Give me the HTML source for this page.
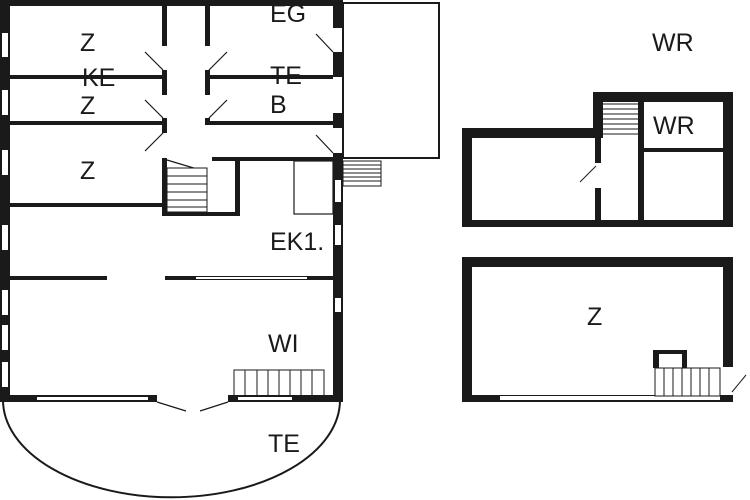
<!DOCTYPE html>
<html><head><meta charset="utf-8"><style>body{margin:0;background:#fff}svg{display:block}text{font-family:"Liberation Sans",sans-serif;font-size:25px;fill:#1a1a1a}</style></head><body>
<svg width="750" height="500" viewBox="0 0 750 500" xmlns="http://www.w3.org/2000/svg">
<rect width="750" height="500" fill="#fff"/>
<g fill="#1a1a1a">
<!-- main outer walls -->
<rect x="0" y="0" width="343" height="6"/>
<rect x="0" y="0" width="10" height="402"/>
<rect x="333" y="0" width="10" height="28"/>
<rect x="333" y="52" width="10" height="25"/>
<rect x="333" y="113" width="10" height="15"/>
<rect x="333" y="153" width="10" height="249"/>
<rect x="0" y="395" width="343" height="7"/>
<!-- interior horizontal -->
<rect x="10" y="75" width="157" height="4"/>
<rect x="10" y="121" width="157" height="4"/>
<rect x="10" y="203" width="157" height="4"/>
<rect x="210" y="75" width="123" height="4"/>
<rect x="207" y="121" width="126" height="4"/>
<rect x="212" y="157" width="121" height="4"/>
<rect x="10" y="276" width="97" height="4"/>
<rect x="165" y="276" width="168" height="4"/>
<!-- corridor walls -->
<rect x="162" y="6" width="5" height="40"/>
<rect x="162" y="70" width="5" height="25"/>
<rect x="162" y="118" width="5" height="15"/>
<rect x="205" y="6" width="5" height="40"/>
<rect x="205" y="70" width="5" height="25"/>
<rect x="205" y="118" width="5" height="7"/>
<!-- stair box -->
<rect x="162" y="158" width="5" height="58"/>
<rect x="162" y="212" width="78" height="4"/>
<rect x="235" y="160" width="5" height="56"/>
</g>
<g fill="#fff">
<rect x="2" y="33" width="6" height="24"/><rect x="2" y="90" width="6" height="25"/><rect x="2" y="150" width="6" height="25"/><rect x="2" y="225" width="6" height="25"/><rect x="2" y="290" width="6" height="25"/><rect x="2" y="325" width="6" height="25"/><rect x="2" y="362" width="6" height="25"/>
<rect x="335" y="80" width="6" height="13"/><rect x="335" y="97" width="6" height="14"/><rect x="335" y="180" width="6" height="22"/><rect x="335" y="225" width="6" height="20"/><rect x="335" y="298" width="6" height="14"/>
<rect x="37" y="397" width="111" height="3"/><rect x="238" y="397" width="54" height="3"/>
<rect x="157" y="393" width="71" height="10"/>
<rect x="107" y="274" width="58" height="8"/>
</g>
<rect x="196" y="277" width="111" height="2" fill="#fff"/>
<g stroke="#1a1a1a" stroke-width="1.2" fill="none">
<line x1="145" y1="52" x2="163" y2="70"/><line x1="145" y1="100" x2="163" y2="118"/><line x1="145" y1="151" x2="163" y2="133"/>
<line x1="227" y1="52" x2="209" y2="70"/><line x1="227" y1="100" x2="209" y2="118"/>
<line x1="316" y1="34" x2="333" y2="52"/><line x1="316" y1="135" x2="333" y2="153"/>
<line x1="157" y1="402" x2="186" y2="411"/><line x1="228" y1="402" x2="200" y2="411"/>
<rect x="343" y="3" width="96" height="155" stroke-width="2"/>
<rect x="294" y="161" width="39" height="53"/>
<line x1="167" y1="160" x2="207" y2="172"/>
<path d="M3 400 A168 97 0 0 0 340 400" stroke-width="2"/>
</g>
<g stroke="#1a1a1a" stroke-width="1">
<rect x="167" y="168" width="40" height="44" fill="#fff"/>
<path d="M167 176H207M167 184H207M167 192H207M167 200H207M167 207H207"/>
<rect x="343" y="161" width="38" height="25" fill="#fff"/>
<path d="M343 165H381M343 169H381M343 173H381M343 177H381M343 181H381"/>
<rect x="234" y="370" width="90" height="26" fill="none"/>
<path d="M245 370V396M257 370V396M268 370V396M279 370V396M290 370V396M301 370V396M312 370V396"/>
</g>
<!-- top right building -->
<g fill="#1a1a1a">
<rect x="462" y="128" width="10" height="99"/>
<rect x="462" y="128" width="136" height="10"/>
<rect x="593" y="92" width="10" height="46"/>
<rect x="593" y="92" width="140" height="10"/>
<rect x="723" y="92" width="10" height="135"/>
<rect x="462" y="220" width="271" height="7"/>
<rect x="595" y="128" width="6" height="35"/>
<rect x="595" y="188" width="6" height="32"/>
<rect x="638" y="92" width="6" height="128"/>
<rect x="644" y="148" width="79" height="4"/>
<!-- bottom right building -->
<rect x="462" y="257" width="271" height="10"/>
<rect x="462" y="257" width="10" height="145"/>
<rect x="723" y="257" width="10" height="110"/>
<rect x="462" y="395" width="271" height="7"/>
<rect x="653" y="350" width="34" height="18"/>
</g>
<rect x="500" y="396" width="220" height="4" fill="#fff"/>
<rect x="724" y="368" width="8" height="24" fill="#fff"/>
<rect x="659" y="354" width="23" height="14" fill="#fff"/>
<g stroke="#1a1a1a" stroke-width="1" fill="none">
<path d="M603 104H638M603 109H638M603 114H638M603 119H638M603 124H638M603 129H638M603 134H638"/>
<line x1="580" y1="182" x2="596" y2="166"/>
<rect x="655" y="368" width="65" height="28" fill="#fff"/>
<path d="M664 368V396M673 368V396M682 368V396M691 368V396M700 368V396M709 368V396"/>
<line x1="732" y1="392" x2="746" y2="375"/>
</g>
<text x="80" y="51">Z</text>
<text x="82" y="86">KE</text>
<text x="80" y="114">Z</text>
<text x="80" y="179">Z</text>
<text x="270" y="22">EG</text>
<text x="270" y="84">TE</text>
<text x="270" y="113">B</text>
<text x="270" y="250">EK1.</text>
<text x="268" y="352">WI</text>
<text x="268" y="452">TE</text>
<text x="652" y="51">WR</text>
<text x="653" y="134">WR</text>
<text x="587" y="325">Z</text>
</svg>
</body></html>
